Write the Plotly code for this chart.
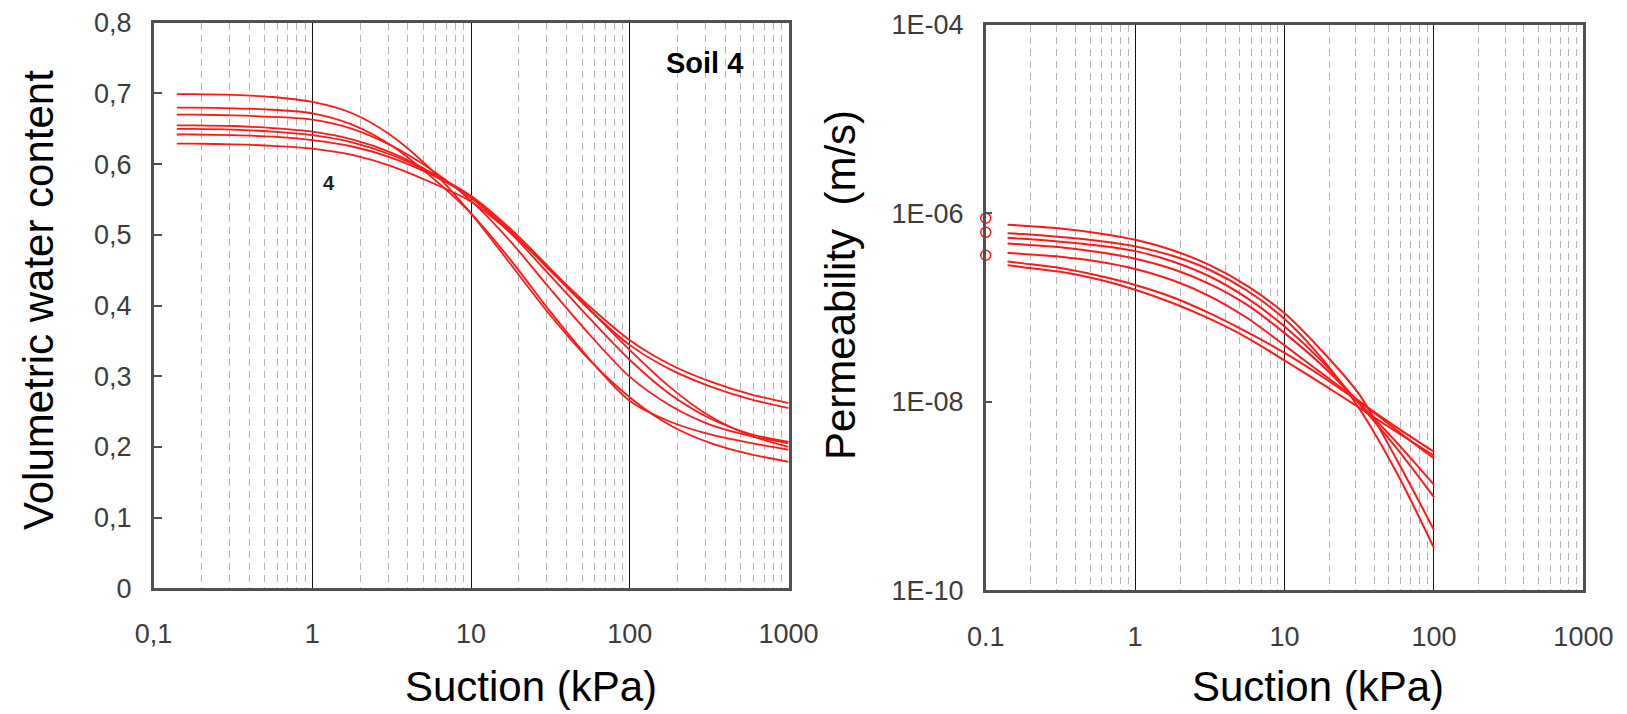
import plotly.graph_objects as go

W, H = 1627, 714

# ---------------- Left panel: water retention (Soil 4) ----------------
suction_wrc = [0.14, 0.178, 0.316, 0.562, 1, 1.78, 3.16, 5.62, 10, 17.8, 31.6, 56.2, 100, 178, 316, 562, 1000]
theta_1 = [0.699, 0.699, 0.698, 0.695, 0.688, 0.672, 0.640, 0.592, 0.530, 0.458, 0.386, 0.322, 0.270, 0.231, 0.206, 0.190, 0.179]
theta_2 = [0.680, 0.680, 0.679, 0.677, 0.672, 0.656, 0.626, 0.582, 0.530, 0.464, 0.391, 0.323, 0.265, 0.236, 0.218, 0.206, 0.196]
theta_3 = [0.670, 0.670, 0.669, 0.667, 0.663, 0.650, 0.626, 0.592, 0.548, 0.490, 0.423, 0.358, 0.299, 0.259, 0.232, 0.216, 0.205]
theta_4 = [0.655, 0.655, 0.654, 0.651, 0.646, 0.635, 0.616, 0.588, 0.552, 0.502, 0.442, 0.381, 0.323, 0.275, 0.241, 0.219, 0.207]
theta_5 = [0.650, 0.650, 0.649, 0.646, 0.641, 0.631, 0.613, 0.587, 0.555, 0.508, 0.452, 0.394, 0.337, 0.285, 0.244, 0.217, 0.200]
theta_6 = [0.642, 0.642, 0.641, 0.639, 0.634, 0.625, 0.609, 0.585, 0.553, 0.505, 0.449, 0.393, 0.344, 0.310, 0.286, 0.268, 0.255]
theta_7 = [0.629, 0.629, 0.628, 0.626, 0.622, 0.613, 0.597, 0.574, 0.547, 0.503, 0.451, 0.398, 0.351, 0.317, 0.293, 0.275, 0.262]
theta_series = [theta_1, theta_2, theta_3, theta_4, theta_5, theta_6, theta_7]

wrc_yticks = [0, 0.1, 0.2, 0.3, 0.4, 0.5, 0.6, 0.7, 0.8]
wrc_yticktext = ["0", "0,1", "0,2", "0,3", "0,4", "0,5", "0,6", "0,7", "0,8"]
wrc_xticks = [0.1, 1, 10, 100, 1000]
wrc_xticktext = ["0,1", "1", "10", "100", "1000"]

# ---------------- Right panel: permeability ----------------
suction_k = [0.14, 0.178, 0.316, 0.562, 1, 1.78, 3.16, 5.62, 10, 17.8, 31.6, 56.2, 100]
k_1 = [7.59e-7, 7.41e-7, 6.92e-7, 6.17e-7, 5.25e-7, 4.07e-7, 2.82e-7, 1.70e-7, 8.71e-8, 3.47e-8, 1.20e-8, 2.45e-9, 4.37e-10]
k_2 = [6.17e-7, 6.03e-7, 5.62e-7, 5.13e-7, 4.47e-7, 3.55e-7, 2.51e-7, 1.51e-7, 7.59e-8, 2.88e-8, 8.51e-9, 1.78e-9, 2.82e-10]
k_3 = [5.50e-7, 5.37e-7, 5.01e-7, 4.57e-7, 3.98e-7, 3.09e-7, 2.14e-7, 1.26e-7, 6.31e-8, 2.69e-8, 9.55e-9, 3.24e-9, 9.77e-10]
k_4 = [4.79e-7, 4.68e-7, 4.37e-7, 3.89e-7, 3.31e-7, 2.57e-7, 1.78e-7, 1.07e-7, 5.37e-8, 2.45e-8, 9.77e-9, 3.72e-9, 1.32e-9]
k_5 = [3.80e-7, 3.72e-7, 3.47e-7, 3.09e-7, 2.57e-7, 1.95e-7, 1.32e-7, 7.76e-8, 3.98e-8, 2.00e-8, 1.02e-8, 5.01e-9, 2.51e-9]
k_6 = [3.09e-7, 2.95e-7, 2.63e-7, 2.19e-7, 1.74e-7, 1.29e-7, 8.71e-8, 5.50e-8, 3.31e-8, 1.86e-8, 1.00e-8, 5.37e-9, 2.95e-9]
k_7 = [2.82e-7, 2.69e-7, 2.40e-7, 2.00e-7, 1.55e-7, 1.12e-7, 7.59e-8, 4.79e-8, 2.75e-8, 1.55e-8, 8.71e-9, 4.79e-9, 2.69e-9]
k_series = [k_1, k_2, k_3, k_4, k_5, k_6, k_7]

k_sat_suction = [0.1, 0.1, 0.1]
k_sat = [8.9e-7, 6.3e-7, 3.6e-7]

k_yticks = [1e-4, 1e-6, 1e-8, 1e-10]
k_yticktext = ["1E-04", "1E-06", "1E-08", "1E-10"]
k_xticks = [0.1, 1, 10, 100, 1000]
k_xticktext = ["0.1", "1", "10", "100", "1000"]

RED = "rgb(255,25,25)"
FONT = "Liberation Sans, Arial, sans-serif"
TICKC = "#3c3c3c"

fig = go.Figure()
for ys in theta_series:
    fig.add_trace(go.Scatter(x=suction_wrc, y=ys, mode="lines", line=dict(color=RED, width=1.8, shape="spline", smoothing=0.8),
                             xaxis="x", yaxis="y", showlegend=False, hoverinfo="skip"))
for ys in k_series:
    fig.add_trace(go.Scatter(x=suction_k, y=ys, mode="lines", line=dict(color=RED, width=2.0, shape="spline", smoothing=0.8),
                             xaxis="x2", yaxis="y2", showlegend=False, hoverinfo="skip"))
fig.add_trace(go.Scatter(x=k_sat_suction, y=k_sat, mode="markers",
                         marker=dict(symbol="circle-open", size=10, color=RED, line=dict(width=1.5)),
                         xaxis="x2", yaxis="y2", showlegend=False, cliponaxis=False, hoverinfo="skip"))


def px_x(p):
    return p / W


def px_y(p):
    return 1 - p / H


common_x = dict(
    type="log", showline=True, linecolor="#505050", linewidth=2.5, mirror=True, automargin=False,
    showgrid=True, gridcolor="#111111", gridwidth=1.3, ticks="", zeroline=False,
    tickfont=dict(family=FONT, size=27, color=TICKC), ticklabelstandoff=20,
    minor=dict(dtick="D1", showgrid=True, gridcolor="#b4b4b4", gridwidth=1, griddash="7px,5px", ticks=""),
)
common_y = dict(
    showline=True, linecolor="#505050", linewidth=2.5, mirror=True, showgrid=False, zeroline=False,
    automargin=False, tickcolor="#505050", ticks="inside",
    tickfont=dict(family=FONT, size=27, color=TICKC), ticklabelstandoff=14,
)

fig.update_layout(
    width=W, height=H, margin=dict(l=0, r=0, t=0, b=0, autoexpand=False),
    paper_bgcolor="white", plot_bgcolor="white",
    xaxis=dict(common_x, domain=[px_x(153.6), px_x(788.6)], range=[-1, 3],
               tickvals=wrc_xticks, ticktext=wrc_xticktext, anchor="y"),
    yaxis=dict(common_y, domain=[px_y(588.3), px_y(22.8)], range=[0, 0.8], tickvals=wrc_yticks,
               ticktext=wrc_yticktext, ticklen=9, tickwidth=2, anchor="x"),
    xaxis2=dict(common_x, domain=[px_x(985.7), px_x(1583.4)], range=[-1, 3],
                tickvals=k_xticks, ticktext=k_xticktext, anchor="y2"),
    yaxis2=dict(common_y, type="log", domain=[px_y(590.4), px_y(24.9)], range=[-10, -4], tickvals=k_yticks,
                ticktext=k_yticktext, ticklen=7, tickwidth=1.5, anchor="x2"),
)

ann = [
    dict(text="Volumetric water content", x=px_x(38), y=px_y(300), textangle=-90, font=dict(size=42, color="black")),
    dict(text="Suction (kPa)", x=px_x(531), y=px_y(686), font=dict(size=42, color="black")),
    dict(text="Permeability  (m/s)", x=px_x(840), y=px_y(285), textangle=-90, font=dict(size=42, color="black")),
    dict(text="Suction (kPa)", x=px_x(1318), y=px_y(686), font=dict(size=42, color="black")),
    dict(text="<b>Soil 4</b>", x=px_x(704), y=px_y(63), font=dict(size=29, color="black")),
    dict(text="<b>4</b>", x=px_x(329), y=px_y(183), font=dict(size=20, color="#222222")),
]
for a in ann:
    a.update(xref="paper", yref="paper", showarrow=False, xanchor="center", yanchor="middle")
    a["font"]["family"] = FONT
fig.update_layout(annotations=ann)

fig.write_html("out.html")
